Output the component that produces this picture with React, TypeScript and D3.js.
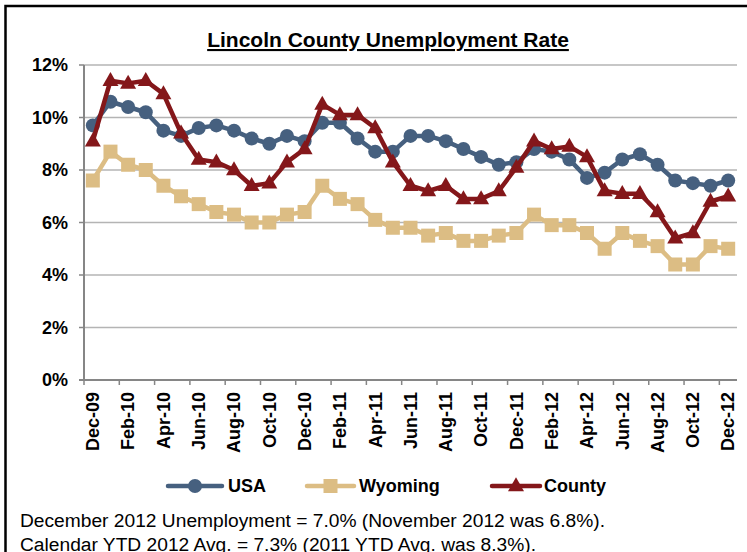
import React from "react";
import * as d3 from "d3";

const months = [
  "Dec-09","Jan-10","Feb-10","Mar-10","Apr-10","May-10","Jun-10","Jul-10","Aug-10","Sep-10","Oct-10","Nov-10",
  "Dec-10","Jan-11","Feb-11","Mar-11","Apr-11","May-11","Jun-11","Jul-11","Aug-11","Sep-11","Oct-11","Nov-11",
  "Dec-11","Jan-12","Feb-12","Mar-12","Apr-12","May-12","Jun-12","Jul-12","Aug-12","Sep-12","Oct-12","Nov-12","Dec-12",
];

const usa = [
  9.7, 10.6, 10.4, 10.2, 9.5, 9.3, 9.6, 9.7, 9.5, 9.2, 9.0, 9.3,
  9.1, 9.8, 9.8, 9.2, 8.7, 8.7, 9.3, 9.3, 9.1, 8.8, 8.5, 8.2,
  8.3, 8.8, 8.7, 8.4, 7.7, 7.9, 8.4, 8.6, 8.2, 7.6, 7.5, 7.4, 7.6,
];

const wyoming = [
  7.6, 8.7, 8.2, 8.0, 7.4, 7.0, 6.7, 6.4, 6.3, 6.0, 6.0, 6.3,
  6.4, 7.4, 6.9, 6.7, 6.1, 5.8, 5.8, 5.5, 5.6, 5.3, 5.3, 5.5,
  5.6, 6.3, 5.9, 5.9, 5.6, 5.0, 5.6, 5.3, 5.1, 4.4, 4.4, 5.1, 5.0,
];

const county = [
  9.1, 11.4, 11.3, 11.4, 10.9, 9.4, 8.4, 8.3, 8.0, 7.4, 7.5, 8.3,
  8.8, 10.5, 10.1, 10.1, 9.6, 8.3, 7.4, 7.2, 7.4, 6.9, 6.9, 7.2,
  8.1, 9.1, 8.8, 8.9, 8.5, 7.2, 7.1, 7.1, 6.4, 5.4, 5.6, 6.8, 7.0,
];

const yTicks = [0, 2, 4, 6, 8, 10, 12];
const seriesNames = ["USA", "Wyoming", "County"];
const titleText = "Lincoln County Unemployment Rate";
const noteLines = [
  "December 2012 Unemployment = 7.0% (November 2012 was 6.8%).",
  "Calendar YTD 2012 Avg. = 7.3% (2011 YTD Avg. was 8.3%).",
];

const COLORS = { USA: "#46607f", Wyoming: "#dcbd84", County: "#84171a" };
const FONT = "'Liberation Sans', Arial, sans-serif";

function Marker({ kind, x, y, color }: { kind: string; x: number; y: number; color: string }) {
  if (kind === "circle") return <circle cx={x} cy={y} r={7} fill={color} />;
  if (kind === "square") return <rect x={x - 7} y={y - 7} width={14} height={14} fill={color} />;
  const s = 16;
  const h = 14;
  return (
    <path
      d={`M${x},${y - h * 0.62} L${x + s / 2},${y + h * 0.38} L${x - s / 2},${y + h * 0.38} Z`}
      fill={color}
    />
  );
}

export default function App() {
  const W = 747, H = 552;
  const left = 84, right = 737, top = 65, bottom = 380;
  const x = d3.scaleBand<string>().domain(months).range([left, right]).paddingInner(0).paddingOuter(0);
  const bw = x.bandwidth();
  const cx = (m: string) => (x(m) as number) + bw / 2;
  const y = d3.scaleLinear().domain([0, 12]).range([bottom, top]);

  const lineGen = d3
    .line<number>()
    .x((_, i) => cx(months[i]))
    .y((d) => y(d));

  const series = [
    { name: "USA", data: usa, kind: "circle" },
    { name: "Wyoming", data: wyoming, kind: "square" },
    { name: "County", data: county, kind: "triangle" },
  ];

  const xTickIdx = d3.range(0, months.length, 2);

  const legendItems = [
    { name: seriesNames[0], kind: "circle", x0: 168, x1: 222, tx: 228 },
    { name: seriesNames[1], kind: "square", x0: 307, x1: 354, tx: 359 },
    { name: seriesNames[2], kind: "triangle", x0: 492, x1: 540, tx: 544 },
  ];
  const legY = 486;

  return (
    <div style={{ position: "fixed", left: 0, top: 0, width: W, height: H, background: "#fff" }}>
      <svg width={W} height={H} style={{ display: "block", fontFamily: FONT }}>
        <rect x={0} y={0} width={W} height={H} fill="#fff" />
        <rect x={5.5} y={6} width={800} height={700} fill="none" stroke="#000" strokeWidth={2.5} />

        <text
          x={388}
          y={47}
          textAnchor="middle"
          fontSize={21}
          fontWeight="bold"
          textDecoration="underline"
          fill="#000"
        >
          {titleText}
        </text>

        {yTicks.map((t) => (
          <g key={t}>
            {t > 0 && (
              <line x1={left} x2={right} y1={y(t)} y2={y(t)} stroke="#b4b4b4" strokeWidth={1.5} />
            )}
            <line x1={left - 5} x2={left} y1={y(t)} y2={y(t)} stroke="#868686" strokeWidth={1.5} />
            <text
              x={68}
              y={y(t)}
              dy="0.35em"
              textAnchor="end"
              fontSize={18}
              fontWeight="bold"
              fill="#000"
            >
              {t}%
            </text>
          </g>
        ))}

        <line x1={left} x2={left} y1={top} y2={bottom + 1} stroke="#868686" strokeWidth={2} />
        <line x1={left - 5} x2={right} y1={bottom} y2={bottom} stroke="#868686" strokeWidth={2} />

        {xTickIdx.map((i) => (
          <g key={months[i]}>
            <line
              x1={x(months[i]) as number}
              x2={x(months[i]) as number}
              y1={bottom}
              y2={bottom + 5}
              stroke="#868686"
              strokeWidth={1.5}
            />
            <text
              transform={`translate(${cx(months[i])},${bottom + 12}) rotate(-90)`}
              dy="0.35em"
              textAnchor="end"
              fontSize={18}
              fontWeight="bold"
              fill="#000"
            >
              {months[i]}
            </text>
          </g>
        ))}

        {series.map((s) => {
          const color = (COLORS as any)[s.name];
          return (
            <g key={s.name}>
              <path d={lineGen(s.data) as string} fill="none" stroke={color} strokeWidth={4.5} strokeLinejoin="round" />
              {s.data.map((v, i) => (
                <Marker key={i} kind={s.kind} x={cx(months[i])} y={y(v)} color={color} />
              ))}
            </g>
          );
        })}

        {legendItems.map((l) => {
          const color = (COLORS as any)[l.name];
          return (
            <g key={l.name}>
              <line x1={l.x0} x2={l.x1} y1={legY} y2={legY} stroke={color} strokeWidth={4.5} strokeLinecap="round" />
              <Marker kind={l.kind} x={(l.x0 + l.x1) / 2} y={legY} color={color} />
              <text x={l.tx} y={legY} dy="0.36em" fontSize={18} fontWeight="bold" fill="#000">
                {l.name}
              </text>
            </g>
          );
        })}

        {noteLines.map((t, i) => (
          <text key={i} x={20} y={527 + i * 24} fontSize={19.2} fill="#000">
            {t}
          </text>
        ))}
      </svg>
    </div>
  );
}
